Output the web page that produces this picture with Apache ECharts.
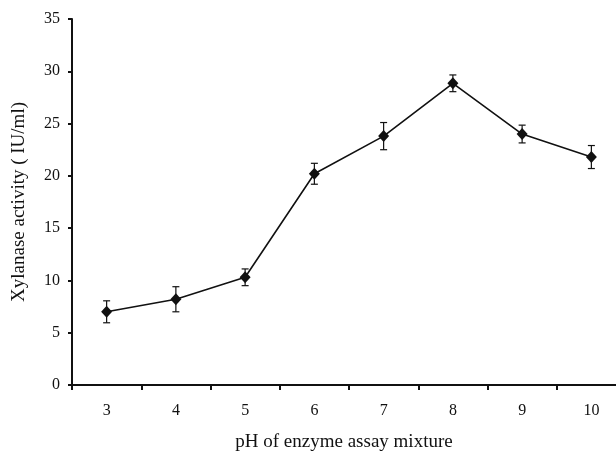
<!DOCTYPE html>
<html>
<head>
<meta charset="utf-8">
<script src="https://cdn.jsdelivr.net/npm/echarts@6/dist/echarts.min.js"></script>
<style>
  html, body { margin: 0; padding: 0; background: #fff; }
  #chart { width: 616px; height: 452px; }
</style>
</head>
<body>
<div id="chart"></div>
<script>
// pH values on the x axis
const phLabels = ["3", "4", "5", "6", "7", "8", "9", "10"];
// mean xylanase activity (IU/ml)
const activity = [7.0, 8.2, 10.3, 20.2, 23.8, 28.85, 24.0, 21.8];
// +/- error for each point
const errors = [1.05, 1.2, 0.8, 1.0, 1.3, 0.8, 0.85, 1.1];
const yTicks = [0, 5, 10, 15, 20, 25, 30, 35];

const serif = "Liberation Serif";
const ink = "#111";

const errorData = activity.map((v, i) => [i, v - errors[i], v + errors[i]]);

const renderErrorBar = (params, api) => {
  const lo = api.coord([api.value(0), api.value(1)]);
  const hi = api.coord([api.value(0), api.value(2)]);
  const half = 3.5;
  const style = { stroke: ink, lineWidth: 1.2 };
  return {
    type: "group",
    children: [
      { type: "line", shape: { x1: hi[0], y1: hi[1], x2: lo[0], y2: lo[1] }, style },
      { type: "line", shape: { x1: hi[0] - half, y1: hi[1], x2: hi[0] + half, y2: hi[1] }, style },
      { type: "line", shape: { x1: lo[0] - half, y1: lo[1], x2: lo[0] + half, y2: lo[1] }, style },
    ],
  };
};

const chart = echarts.init(document.getElementById("chart"));
chart.setOption({
  animation: false,
  grid: { left: 72, right: -10, top: 19, bottom: 67, outerBoundsMode: "none", containLabel: false },
  xAxis: {
    type: "category",
    data: phLabels,
    boundaryGap: true,
    name: "pH of enzyme assay mixture",
    nameLocation: "middle",
    nameGap: 48,
    nameTextStyle: { fontFamily: serif, fontSize: 19, color: ink, padding: [0, 10, 0, 0] },
    axisLine: { lineStyle: { color: ink, width: 2 } },
    axisTick: { show: true, length: 5, lineStyle: { color: ink, width: 2 } },
    axisLabel: { fontFamily: serif, fontSize: 16, color: ink, margin: 18 },
    splitLine: { show: false },
  },
  yAxis: {
    type: "value",
    min: yTicks[0],
    max: yTicks[yTicks.length - 1],
    interval: yTicks[1] - yTicks[0],
    name: "Xylanase activity ( IU/ml)",
    nameLocation: "middle",
    nameGap: 43,
    nameTextStyle: { fontFamily: serif, fontSize: 19, color: ink },
    axisLine: { show: true, lineStyle: { color: ink, width: 2 } },
    axisTick: { show: true, length: 4, lineStyle: { color: ink, width: 2 } },
    axisLabel: { fontFamily: serif, fontSize: 16, color: ink, margin: 12 },
    splitLine: { show: false },
  },
  series: [
    {
      type: "custom",
      renderItem: renderErrorBar,
      data: errorData,
      encode: { x: 0, y: [1, 2] },
      z: 1,
    },
    {
      type: "line",
      data: activity,
      symbol: "diamond",
      symbolSize: [11, 12],
      lineStyle: { color: ink, width: 1.6 },
      itemStyle: { color: ink },
      z: 2,
    },
  ],
});
</script>
</body>
</html>
